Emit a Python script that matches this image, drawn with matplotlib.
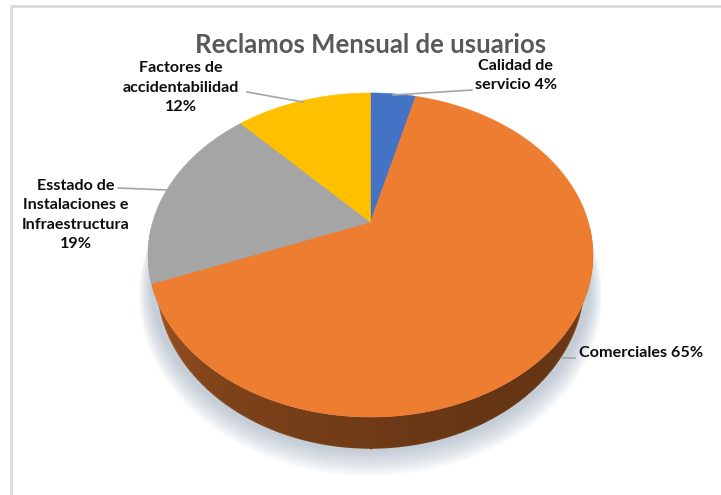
import matplotlib
matplotlib.use("Agg")
import matplotlib.pyplot as plt
import matplotlib.colors as mcolors
from matplotlib.patches import Polygon
from matplotlib.collections import LineCollection
import numpy as np

# datos del grafico
categories = ["Calidad de\nservicio", "Comerciales",
              "Esstado de\nInstalaciones e\nInfraestructura",
              "Factores de\naccidentabilidad"]
values = [4, 65, 19, 12]
colors = ["#4472C4", "#ED7D31", "#A5A5A5", "#FFC000"]
title = "Reclamos Mensual de usuarios"

# separador entre nombre y porcentaje
label_sep = [" ", " ", "\n", "\n"]
# posiciones de etiquetas (px) y lineas guia
label_pos = [(516, 75.5, "center"), (579, 353, "left"), (76, 215, "center"), (181, 87.5, "center")]
leaders = [((472, 90), (393, 95)), ((575, 358), (563, 358)),
           ((118, 188), (167, 190)), ((247, 92), (303, 102))]

# geometria del pastel 3D (perspectiva)
cx, cy = 370.5, 222.0
sx, sy = 217.8, 155.3
k = 0.2037
depth = 24.7
shrink = 0.04   # el disco inferior se ve un poco mas chico (mas lejos)


def proj(theta, r=1.0, drop=0.0, sc=1.0):
    u = r * np.sin(theta)
    v = r * np.cos(theta)
    w = 1 + k * v
    return cx + sc * sx * u / w, cy - sy * v / w + drop / w


def shade(theta):
    # luz lateral: costados claros, frente oscuro, derecha mas oscura
    c = np.abs(np.cos(theta))
    return 0.47 - 0.1 * np.sin(theta) + 0.42 * (1 - c) ** 2


plt.rcParams['font.family'] = ['Lato', 'DejaVu Sans']
fig = plt.figure(figsize=(7.21, 4.95), dpi=100)
ax = fig.add_axes([0, 0, 1, 1])

# borde del area del grafico
ax.plot([11, 11, 721], [495, 6, 6], color="#d9d9d9", lw=2, solid_capstyle='butt')

fr = np.array(values, dtype=float) / sum(values)
bounds = np.concatenate([[0], np.cumsum(fr)]) * 2 * np.pi
rgb = np.array([mcolors.to_rgb(c) for c in colors])


def slice_of(theta):
    return np.clip(np.searchsorted(bounds, theta % (2 * np.pi), side='right') - 1, 0, len(values) - 1)


# sombra suave
th = np.linspace(0, 2 * np.pi, 361)
for i in range(12):
    e = 0.005 * (i + 1)
    px, py = proj(th, r=1 + e, drop=depth + 2 + i * 0.7, sc=1 - shrink / 2)
    ax.fill(px, py, color="#7d90a8", alpha=0.045, lw=0, zorder=1)

# lado del disco (imagen con degradado recortada a la banda)
tw1 = np.arccos(-k)
tw2 = 2 * np.pi - tw1
tt = np.linspace(tw1, tw2, 2000)
xt, _ = proj(tt)
x0, x1, y0, y1 = 130, 612, 228, 462
gx = np.arange(x0, x1, 0.5) + 0.25
theta_x = np.interp(gx, xt[::-1], tt[::-1])
col = rgb[slice_of(theta_x)] * shade(theta_x)[:, None]
ny = int((y1 - y0) * 2)
img = np.repeat(col[None, :, :], ny, axis=0)
im = ax.imshow(img, extent=(x0, x1, y1, y0), origin='upper', aspect='auto',
               interpolation='bilinear', zorder=2)
ta = np.linspace(np.pi / 3, 5 * np.pi / 3, 600)
tx, ty = proj(ta)
bx, by = proj(ta[::-1], drop=depth, sc=1 - shrink)
band = Polygon(np.column_stack([np.concatenate([tx, bx]), np.concatenate([ty, by])]),
               closed=True, transform=ax.transData, fc='none', ec='none')
ax.add_patch(band)
im.set_clip_path(band)

# borde inferior suavizado
tb = np.linspace(tw1 - 0.3, tw2 + 0.3, 400)
lx, ly = proj(tb, drop=depth, sc=1 - shrink)
segs = np.stack([np.column_stack([lx[:-1], ly[:-1]]), np.column_stack([lx[1:], ly[1:]])], axis=1)
tm = 0.5 * (tb[:-1] + tb[1:])
lc = LineCollection(segs, colors=rgb[slice_of(tm)] * shade(tm)[:, None], linewidths=1.0, zorder=2.5)
ax.add_collection(lc)

# cara superior
for j in range(len(values)):
    a = np.linspace(bounds[j], bounds[j + 1], max(int(fr[j] * 720), 2) + 1)
    px, py = proj(a)
    px = np.concatenate([[cx], px])
    py = np.concatenate([[cy], py])
    ax.fill(px, py, color=colors[j], lw=0.4, ec=colors[j], zorder=3)

# titulo
ax.text(371, 45, title, ha="center", va="center", fontsize=18.5,
        fontweight="bold", color="#595959", zorder=5)

# etiquetas
for j in range(len(values)):
    txt = categories[j] + label_sep[j] + "%d%%" % round(fr[j] * 100)
    x, y, ha = label_pos[j]
    ax.text(x, y, txt, ha=ha, va="center", multialignment="center",
            fontsize=11.6, fontweight="bold", color="#0d0d0d", linespacing=1.48, zorder=5)
    (lx0, ly0), (lx1, ly1) = leaders[j]
    ax.plot([lx0, lx1], [ly0, ly1], color="#a6a6a6", lw=1.2, zorder=4)

ax.set_xlim(0, 721)
ax.set_ylim(495, 0)
ax.axis('off')

fig.savefig("out.png", dpi=100)
